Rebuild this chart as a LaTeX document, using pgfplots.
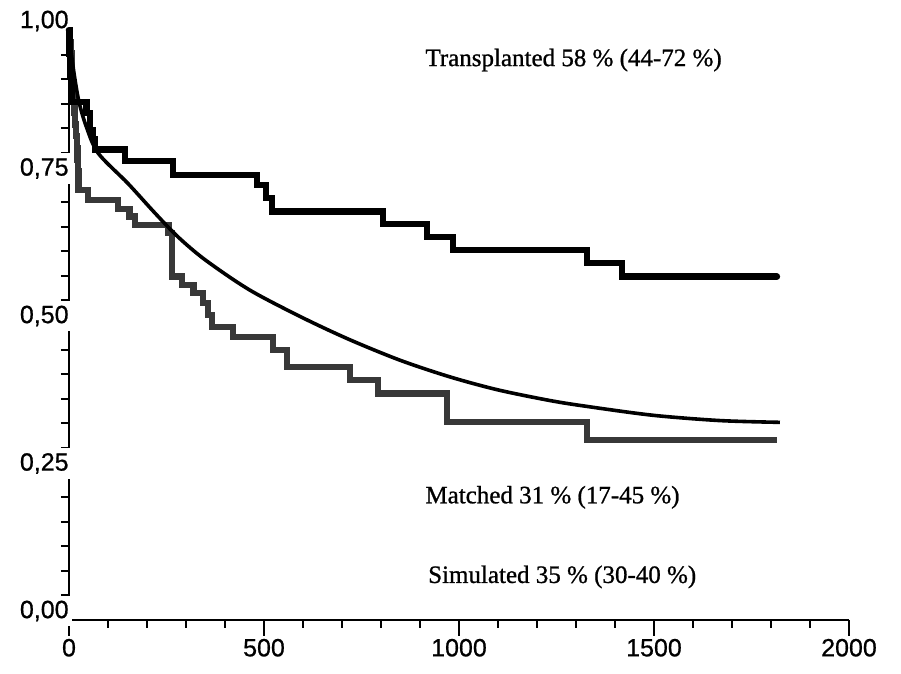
\documentclass[border=0pt]{standalone}
\usepackage{pgfplots}
\pgfplotsset{compat=1.18}
\usepackage{fontspec}
\setmainfont{Liberation Serif}[FakeBold=0.9]
\newfontfamily\sansf{Liberation Sans}[FakeBold=0.7]

\pgfplotstableread{
x y
0 1.0
1 0.98
2 0.96
3 0.94
4 0.92
6 0.90
8 0.878
45 0.859
54 0.83
62 0.815
67 0.797
144 0.778
267 0.754
482 0.737
505 0.715
520 0.692
805 0.671
918 0.649
985 0.627
1328 0.605
1418 0.582
1815 0.582
}\transplanted

\pgfplotstableread{
x y
0 1.0
2 0.98
4 0.96
6 0.94
8 0.92
10 0.90
12 0.88
14 0.86
16 0.84
18 0.82
20 0.80
22 0.78
23 0.76
24 0.729
49 0.712
126 0.697
155 0.684
169 0.669
255 0.656
264 0.582
289 0.568
319 0.554
344 0.537
356 0.517
366 0.497
420 0.480
523 0.458
559 0.429
720 0.407
792 0.384
969 0.336
1328 0.305
1815 0.305
}\matched

\pgfplotstableread{
x y
0 1.0
10 0.94
25 0.88
45 0.835
75 0.791
151 0.740
220 0.690
280 0.649
350 0.610
464 0.559
600 0.512
720 0.475
850 0.440
977 0.412
1100 0.390
1233 0.372
1328 0.362
1497 0.347
1669 0.338
1823 0.335
}\simulated

\begin{document}
\begin{tikzpicture}
\useasboundingbox (-34.5pt,-27pt) rectangle (416pt,310pt);
\begin{axis}[
  scale only axis, width=390pt, height=295pt,
  xmin=0, xmax=2000, ymin=0, ymax=1,
  axis x line*=bottom, axis y line*=left,
  axis line style={line width=1pt},
  xtick={0,500,1000,1500,2000}, xticklabels={0,500,1000,1500,2000},
  minor x tick num=4,
  ytick={0,0.25,0.5,0.75,1}, yticklabels={{0,00},{0,25},{0,50},{0,75},{1,00}},
  minor y tick num=5,
  tick align=outside,
  major tick length=8pt, minor tick length=4pt,
  every tick/.style={black, line width=1pt},
  tick label style={font=\sansf\fontsize{12.5}{14}\selectfont},
  xticklabel style={inner sep=0pt, yshift=-1.25pt},
  yticklabel style={anchor=east, fill=white, inner xsep=1.5pt, inner ysep=2.5pt, xshift=9.5pt, yshift=4.5pt},
  clip=false,
]
\addplot[const plot, draw=black!78, line width=3.2pt] table[x=x,y=y] {\matched};
\addplot[smooth, black, line width=1.8pt] table[x=x,y=y] {\simulated};
\addplot[const plot, black, line width=3.3pt, line cap=round] table[x=x,y=y] {\transplanted};
\node[anchor=west, inner sep=0pt, font=\fontsize{12.5}{14}\selectfont] at (axis cs:913,0.949) {Transplanted 58 \% (44-72 \%)};
\node[anchor=west, inner sep=0pt, font=\fontsize{12.5}{14}\selectfont] at (axis cs:913,0.208) {Matched 31 \% (17-45 \%)};
\node[anchor=west, inner sep=0pt, font=\fontsize{12.5}{14}\selectfont] at (axis cs:920,0.073) {Simulated 35 \% (30-40 \%)};
\end{axis}
\end{tikzpicture}
\end{document}
